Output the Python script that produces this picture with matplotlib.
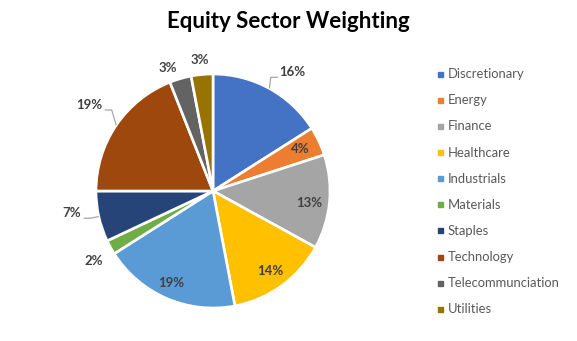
import numpy as np
import matplotlib
matplotlib.use("Agg")
import matplotlib.pyplot as plt
from matplotlib.patches import Rectangle

plt.rcParams["font.family"] = ["Lato", "DejaVu Sans"]

sectors = ["Discretionary", "Energy", "Finance", "Healthcare", "Industrials",
           "Materials", "Staples", "Technology", "Telecommunciation", "Utilities"]
weights = [16, 4, 13, 14, 19, 2, 7, 19, 3, 3]
colors = ["#4472C4", "#ED7D31", "#A5A5A5", "#FFC000", "#5B9BD5",
          "#70AD47", "#264478", "#9E480E", "#636363", "#997300"]

# label placement: radius (in pie radii) and small angle nudge (deg)
label_r = [1.22, 0.83, 0.83, 0.84, 0.865, 1.18, 1.22, 1.29, 1.12, 1.125]
label_da = [-5, 0.5, -1.7, 0, -1, 1.7, -3.6, -0.5, 3.8, 0.3]
leaders = {0: 0.125, 6: 0.10, 7: 0.135}     # index -> half text width

W, H, DPI = 577, 341, 100
CX, CY, R = 213, 191, 117                  # pie centre / radius in px

fig = plt.figure(figsize=(W / DPI, H / DPI), dpi=DPI)
lim = 1.6
side = 2 * lim * R
ax = fig.add_axes([(CX - side / 2) / W, (H - CY - side / 2) / H,
                   side / W, side / H])
wedges, _ = ax.pie(weights, colors=colors, startangle=90, counterclock=False,
                   radius=1.0,
                   wedgeprops=dict(edgecolor="white", linewidth=1.9))
ax.set_xlim(-lim, lim)
ax.set_ylim(-lim, lim)
ax.axis("off")

lab_col = "#404040"
for i, (w, v) in enumerate(zip(wedges, weights)):
    mid = 0.5 * (w.theta1 + w.theta2)
    a = np.deg2rad(mid + label_da[i])
    lx, ly = label_r[i] * np.cos(a), label_r[i] * np.sin(a)
    ax.text(lx, ly, "%d%%" % v, ha="center", va="center", fontsize=9.5,
            fontweight="bold", color=lab_col)
    if i in leaders:
        m = np.deg2rad(mid)
        sgn = 1 if np.cos(m) >= 0 else -1
        sx = lx - sgn * leaders[i]
        sy = ly - 0.042
        ex = sx - sgn * 0.06
        ax.plot([np.cos(m), ex, sx], [np.sin(m), sy, sy],
                color="#a6a6a6", lw=0.9, solid_capstyle="butt")

fig.text(0.5, 1 - 28 / H, "Equity Sector Weighting", ha="center",
         va="baseline", fontsize=16, fontweight="bold", color="black")

# legend
y0, dy = 74.3, 26.1
for i, (name, c) in enumerate(zip(sectors, colors)):
    y = y0 + i * dy
    fig.add_artist(Rectangle(((438) / W, 1 - (y + 2.5) / H), 5 / W, 5 / H,
                             color=c, transform=fig.transFigure))
    fig.text(448 / W, 1 - y / H, name, ha="left", va="center",
             fontsize=9.4, color="#595959")

fig.savefig("out.png", dpi=DPI)
